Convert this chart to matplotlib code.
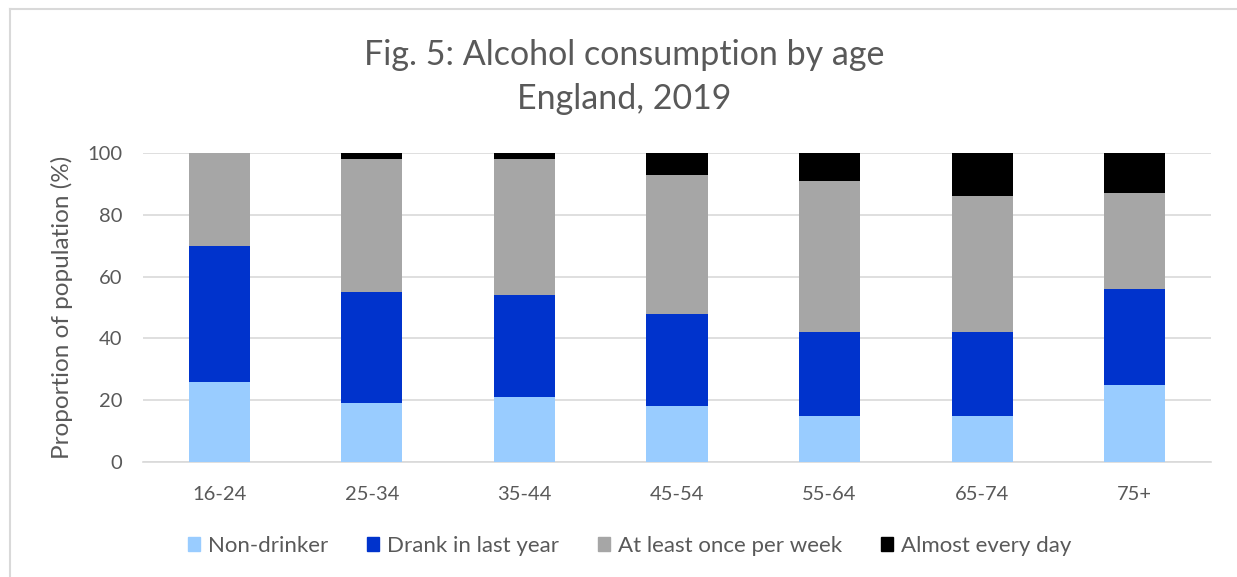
import numpy as np
import matplotlib
matplotlib.use('Agg')
import matplotlib.pyplot as plt
from matplotlib.lines import Line2D

ages = ['16-24', '25-34', '35-44', '45-54', '55-64', '65-74', '75+']
non_drinker = [26, 19, 21, 18, 15, 15, 25]
drank_last_year = [44, 36, 33, 30, 27, 27, 31]
weekly = [30, 43, 44, 45, 49, 44, 31]
daily = [0, 2, 2, 7, 9, 14, 13]

series = [('Non-drinker', non_drinker, '#99CCFF'),
          ('Drank in last year', drank_last_year, '#0033CC'),
          ('At least once per week', weekly, '#A6A6A6'),
          ('Almost every day', daily, '#000000')]

plt.rcParams['font.family'] = ['Lato', 'DejaVu Sans']
grey = '#595959'

fig = plt.figure(figsize=(12.37, 5.77), dpi=100)
ax = fig.add_axes([0.1156, 0.1993, 0.8634, 0.5355])

x = np.arange(len(ages))
bottom = np.zeros(len(ages))
for name, vals, col in series:
    ax.bar(x, vals, 0.4, bottom=bottom, color=col, label=name, zorder=3)
    bottom += np.array(vals)

ax.set_xlim(-0.5, len(ages) - 0.5)
ax.set_ylim(0, 100)
ax.set_yticks(range(0, 101, 20))
ax.set_xticks(x)
ax.set_xticklabels(ages)
ax.tick_params(axis='both', length=0, labelsize=14.5, colors=grey)
ax.tick_params(axis='y', pad=15)
ax.tick_params(axis='x', pad=17)
ax.yaxis.grid(True, color='#D9D9D9', linewidth=1.2, zorder=0)
for s in ['left', 'right', 'top']:
    ax.spines[s].set_visible(False)
ax.spines['bottom'].set_color('#D9D9D9')
ax.spines['bottom'].set_linewidth(1.2)
ax.set_ylabel('Proportion of population (%)', fontsize=17.5, color=grey, labelpad=10)

fig.text(0.505, 0.866, 'Fig. 5: Alcohol consumption by age\nEngland, 2019',
         ha='center', va='center', fontsize=24.5, color=grey, linespacing=1.45)

handles = [plt.Rectangle((0, 0), 1, 1, color=c) for _, _, c in series]
fig.legend(handles, [s[0] for s in series], loc='center', bbox_to_anchor=(0.509, 0.054),
           ncol=4, frameon=False, fontsize=16, labelcolor=grey,
           handlelength=0.55, handleheight=0.55, handletextpad=0.35, columnspacing=1.75)

# chart frame
fig.add_artist(Line2D([10 / 1237, 10 / 1237], [0, 1 - 9 / 577], color='#D9D9D9', linewidth=1.5,
                      transform=fig.transFigure))
fig.add_artist(Line2D([10 / 1237, 1], [1 - 9 / 577, 1 - 9 / 577], color='#D9D9D9', linewidth=1.5,
                      transform=fig.transFigure))

fig.savefig('out.png', dpi=100)
